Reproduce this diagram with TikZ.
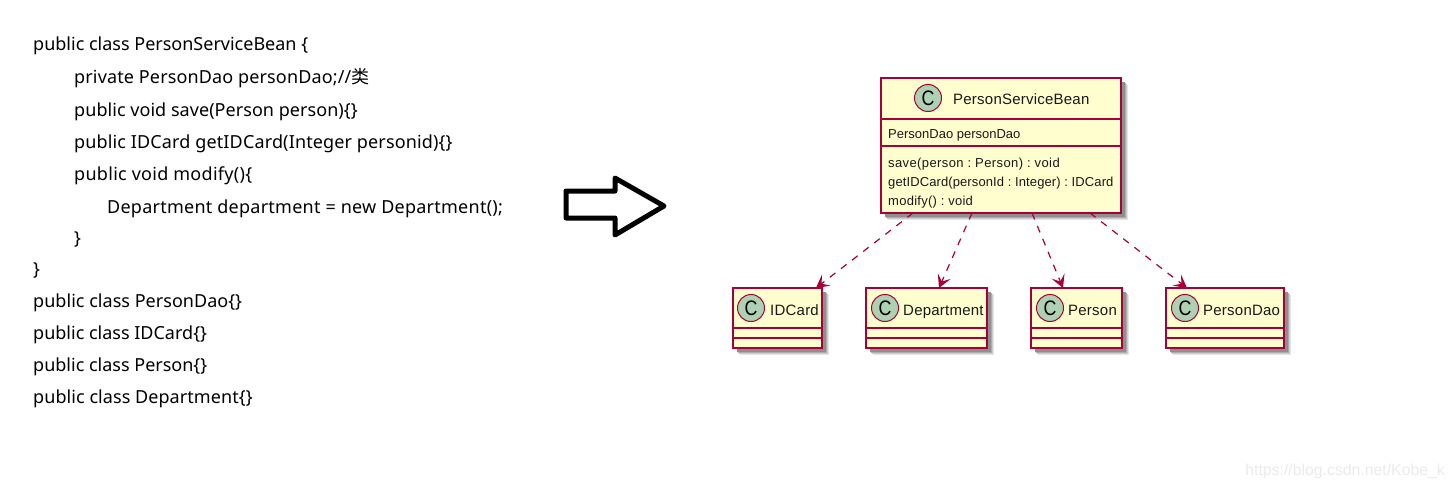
\documentclass[tikz,border=0pt]{standalone}
\usepackage{fontspec}
\setmainfont{Noto Sans}
\newfontfamily\umlfont{Liberation Sans}
\newfontfamily\cjkfont{Noto Sans CJK SC}
\newcommand{\lsp}[1]{\addfontfeature{LetterSpace=#1}}
\usetikzlibrary{arrows.meta,calc,shadows}
\definecolor{umlred}{HTML}{A80036}
\definecolor{umlfill}{HTML}{FEFECE}
\definecolor{umlcirc}{HTML}{ADD1B2}
\tikzset{
  x=1pt,y=-1pt,
  code/.style={anchor=base west,inner sep=0pt,font=\frenchspacing\fontsize{18}{20}\selectfont,text=black},
  classbox/.style={draw=umlred,fill=umlfill,line width=1.5pt,inner sep=0pt,outer sep=0pt,anchor=north west,
    general shadow={shadow xshift=7pt,shadow yshift=-7pt,fill=black!10},
    general shadow={shadow xshift=6pt,shadow yshift=-6pt,fill=black!20},
    general shadow={shadow xshift=5pt,shadow yshift=-5pt,fill=black!32},
    general shadow={shadow xshift=4pt,shadow yshift=-4pt,fill=black!44}},
  sep/.style={draw=umlred,line width=1.5pt},
  badge/.style={circle,draw=umlred,fill=umlcirc,line width=1pt,minimum size=27pt,inner sep=0pt,
    font=\umlfont\fontsize{21}{21}\selectfont,text=black},
  cname/.style={anchor=base west,inner sep=0pt,font=\frenchspacing\umlfont\fontsize{15}{16}\selectfont\lsp{1.5},text=black!90},
  member/.style={anchor=base west,inner sep=0pt,font=\frenchspacing\umlfont\fontsize{13}{14}\selectfont,text=black!90},
  dep/.style={draw=umlred,line width=1.2pt,dash pattern=on 7pt off 7pt,
    -{Stealth[inset=6pt,length=13pt,width=14pt,fill=umlred]}},
}
\newcommand{\cee}{\scalebox{.85}[1]{C}}
\begin{document}
\begin{tikzpicture}
\useasboundingbox (0,0) rectangle (1454,487);
\fill[white] (0,0) rectangle (1454,487);

% code
\node[code] (l1) at (33,51) {public class PersonServiceBean \{};
\node[code] (l2) at (74,84) {\lsp{0.8}private PersonDao personDao;//{\cjkfont 类}};
\node[code] (l3) at (74,116) {\lsp{0.3}public void save(Person person)\{\}};
\node[code] (l4) at (74,148) {\lsp{0.8}public IDCard getIDCard(Integer personid)\{\}};
\node[code] (l5) at (74,180) {\lsp{1.6}public void modify()\{};
\node[code] (l6) at (107,213) {\lsp{1.4}Department department = new Department();};
\node[code] (l7) at (74,244) {\}};
\node[code] (l8) at (33,275) {\}};
\node[code] (l9) at (33,307) {\lsp{0.2}public class PersonDao\{\}};
\node[code] (l10) at (33,339) {public class IDCard\{\}};
\node[code] (l11) at (33,371) {public class Person\{\}};
\node[code] (l12) at (33,403) {\lsp{0.4}public class Department\{\}};

% big arrow
\draw[line width=5pt,line join=round,black,fill=white]
  (566,191) -- (615,191) -- (615,178) -- (664,206) -- (615,235) -- (615,218) -- (566,218) -- cycle;

% main class
\node[classbox,minimum width=240pt,minimum height=135pt] (psb) at (881,78) {};
\draw[sep] (881,119) -- (1121,119);
\draw[sep] (881,146) -- (1121,146);
\node[badge] (psbc) at (928,98) {\cee};
\node[cname] (psbn) at (953,104) {PersonServiceBean};
\node[member] (m1) at (888,138) {PersonDao personDao};
\node[member] (m2) at (888,167) {\lsp{3}save(person : Person) : void};
\node[member] (m3) at (888,186) {\lsp{0.8}getIDCard(personId : Integer) : IDCard};
\node[member] (m4) at (888,205) {\lsp{2}modify() : void};

% small classes
\node[classbox,minimum width=89pt,minimum height=60pt] (idc) at (733,288) {};
\draw[sep] (733,328) -- (822,328);
\draw[sep] (733,338) -- (822,338);
\node[badge] (idcc) at (751,308) {\cee};
\node[cname] (idcn) at (770,315) {IDCard};

\node[classbox,minimum width=121pt,minimum height=60pt] (dep) at (866,288) {};
\draw[sep] (866,328) -- (987,328);
\draw[sep] (866,338) -- (987,338);
\node[badge] (depc) at (885,308) {\cee};
\node[cname] (depn) at (903,315) {Department};

\node[classbox,minimum width=91pt,minimum height=60pt] (per) at (1031,288) {};
\draw[sep] (1031,328) -- (1122,328);
\draw[sep] (1031,338) -- (1122,338);
\node[badge] (perc) at (1050,308) {\cee};
\node[cname] (pern) at (1068,315) {Person};

\node[classbox,minimum width=118pt,minimum height=60pt] (dao) at (1166,288) {};
\draw[sep] (1166,328) -- (1284,328);
\draw[sep] (1166,338) -- (1284,338);
\node[badge] (daoc) at (1185,308) {\cee};
\node[cname] (daon) at (1203,315) {PersonDao};

% dependencies
\draw[dep] ($(psb.south west)+(32,0)$) -- ($(idc.north east)+(-6,0)$);
\draw[dep] ($(psb.south west)+(91,0)$) -- ($(dep.north west)+(73,0)$);
\draw[dep] ($(psb.south west)+(151,0)$) -- ($(per.north west)+(32,0)$);
\draw[dep] ($(psb.south west)+(209,0)$) -- ($(dao.north west)+(21,0)$);

% watermark
\node[anchor=base east,inner sep=0pt,font=\umlfont\fontsize{15.8}{16}\selectfont,text=black!8] (wm) at (1445,475) {https://blog.csdn.net/Kobe\_k};
\end{tikzpicture}
\end{document}
